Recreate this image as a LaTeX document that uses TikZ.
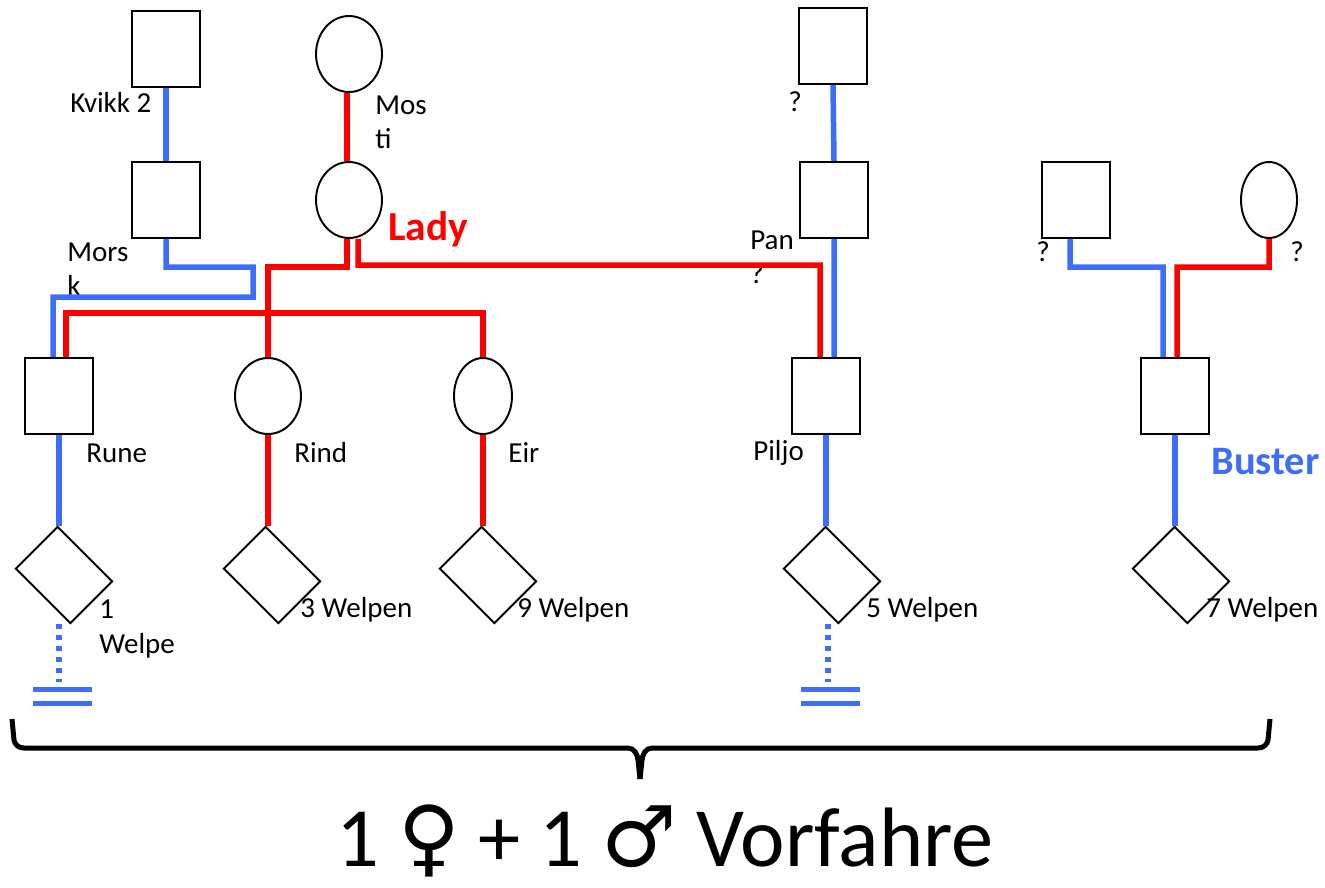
\documentclass[tikz,border=0pt]{standalone}
\usepackage{fontspec}
\setmainfont{Carlito}
\newfontfamily\symbolfont{DejaVu Sans}
\usetikzlibrary{shapes.geometric}
\definecolor{sireblue}{RGB}{60,110,250}
\definecolor{damred}{RGB}{255,0,0}

\begin{document}
\begin{tikzpicture}[x=0.02cm, y=-0.02cm,
        male/.style={rectangle, draw=black, line width=1.1pt, fill=white, minimum width=1.36cm, minimum height=1.52cm, inner sep=0pt},
        female/.style={ellipse, draw=black, line width=1.1pt, fill=white, minimum width=1.32cm, minimum height=1.52cm, inner sep=0pt},
        litter/.style={rectangle, draw=black, line width=1.1pt, fill=white, minimum width=1.54cm, minimum height=1.18cm, inner sep=0pt, rotate=-45},
        paternal/.style={draw=sireblue, line width=0.11cm},
        maternal/.style={draw=damred, line width=0.11cm},
        unknown/.style={paternal, dash pattern=on 0.1cm off 0.12cm},
        endbar/.style={draw=sireblue, line width=0.1cm, double=white, double distance=0.18cm},
        lbl/.style={font=\fontsize{16.5}{19.4}\selectfont, inner sep=0pt, anchor=west, align=left},
        brace/.style={draw=black, line width=0.1cm}
    ]
    \useasboundingbox (0,0) rectangle (1325,887);

    % Left pedigree - Kvikk 2, Morsk, Mosti, Lady
    \node[male] (k2) at (166,49) {};
    \node[male] (morsk) at (166,200) {};
    \node[female] (mosti) at (349,54) {};
    \node[female] (lady) at (349,200) {};
    \node[male] (rune) at (59,396) {};
    \node[female] (rind) at (268,396) {};
    \node[female, minimum width=1.16cm] (eir) at (483,396) {};

    % Middle pedigree - Pan, Piljo
    \node[male] (panfather) at (833,46) {};
    \node[male] (pan) at (834,200) {};
    \node[male] (piljo) at (826,396) {};

    % Right pedigree - Buster
    \node[male] (bsire) at (1076,200) {};
    \node[female, minimum width=1.12cm] (bdam) at (1269,200) {};
    \node[male] (buster) at (1175,396) {};

    % litters
    \node[litter] (l1) at (64,575) {};
    \node[litter] (l2) at (272,575) {};
    \node[litter] (l3) at (488,575) {};
    \node[litter] (l4) at (832,575) {};
    \node[litter] (l5) at (1181,575) {};

    % names
    \node[lbl] (k2name) at (70,102) {Kvikk 2};
    \node[lbl] (morskname) at (67,269) {Mors\\k};
    \node[lbl] (mostiname) at (375,122) {Mos\\ti};
    \node[lbl, font=\fontsize{23.5}{28}\selectfont\bfseries, text=damred] (ladyname) at (388,229) {Lady};
    \node[lbl] (pfname) at (788,102) {?};
    \node[lbl] (panname) at (750,257) {Pan\\?};
    \node[lbl] (bsname) at (1036,252) {?};
    \node[lbl] (bdname) at (1290,252) {?};
    \node[lbl] (runename) at (86,453) {Rune};
    \node[lbl] (rindname) at (294,453) {Rind};
    \node[lbl] (eirname) at (508,453) {Eir};
    \node[lbl] (piljoname) at (753,453) {Piljo};
    \node[lbl, font=\fontsize{23}{28}\selectfont\bfseries, text=sireblue] (bustername) at (1211,462) {Buster};
    \node[lbl] (l1name) at (99,629) {1\\Welpe};
    \node[lbl] (l2name) at (300,610) {3 Welpen};
    \node[lbl] (l3name) at (517,610) {9 Welpen};
    \node[lbl] (l4name) at (866,610) {5 Welpen};
    \node[lbl] (l5name) at (1206,610) {7 Welpen};

    % sire lines
    \draw[paternal] (k2.south) -- (morsk.north);
    \draw[paternal] (morsk.south) |- (253,267) |- (53,297) -- ([xshift=-0.12cm]rune.north);
    \draw[paternal] (panfather.south) -- (pan.north);
    \draw[paternal] (pan.south) -- ([xshift=0.16cm]piljo.north);
    \draw[paternal] ([xshift=-0.12cm]bsire.south) |- (1163,267) -- ([xshift=-0.24cm]buster.north);

    % dam lines
    \draw[maternal] ([xshift=-0.04cm]mosti.south) -- ([xshift=-0.04cm]lady.north);
    \draw[maternal] ([xshift=-0.04cm]lady.south) |- (268,267) -- (rind.north);
    \draw[maternal] ([xshift=0.18cm]lady.south) |- (820,265) -- ([xshift=-0.12cm]piljo.north);
    \draw[maternal] ([xshift=0.14cm]rune.north) |- (483,313) -- (eir.north);
    \draw[maternal] (bdam.south) |- (1177,267) -- ([xshift=0.04cm]buster.north);

    % parents to litters
    \draw[paternal] (rune.south) -- (rune.south |- l1.north west);
    \draw[maternal] (rind.south) -- (rind.south |- l2.north west);
    \draw[maternal] (eir.south) -- (eir.south |- l3.north west);
    \draw[paternal] (piljo.south) -- (piljo.south |- l4.north west);
    \draw[paternal] (buster.south) -- (buster.south |- l5.north west);

    % no further offspring
    \coordinate (stop1) at (59,682);
    \coordinate (stop4) at (828,682);
    \draw[unknown] (rune.south |- l1.south east) -- (stop1);
    \draw[unknown] (stop4 |- l4.south east) -- (stop4);
    \draw[endbar] (33,696) -- (92,696);
    \draw[endbar] (801,696) -- (860,696);

    % brace and summary
    \draw[brace] (12,719) -- (14,740) to[out=-80,in=180] (24,748) -- (628,748) to[out=0,in=95] (638,760) -- (640,779);
    \draw[brace] (640,779) -- (642,760) to[out=85,in=180] (652,748) -- (1258,748) to[out=0,in=-100] (1268,740) -- (1270,719);
    \node[font=\fontsize{48}{58}\selectfont, inner sep=0pt, anchor=base] (summary) at (665,866) {1 {\symbolfont ♀} + 1 {\symbolfont ♂} Vorfahre};
\end{tikzpicture}
\end{document}
